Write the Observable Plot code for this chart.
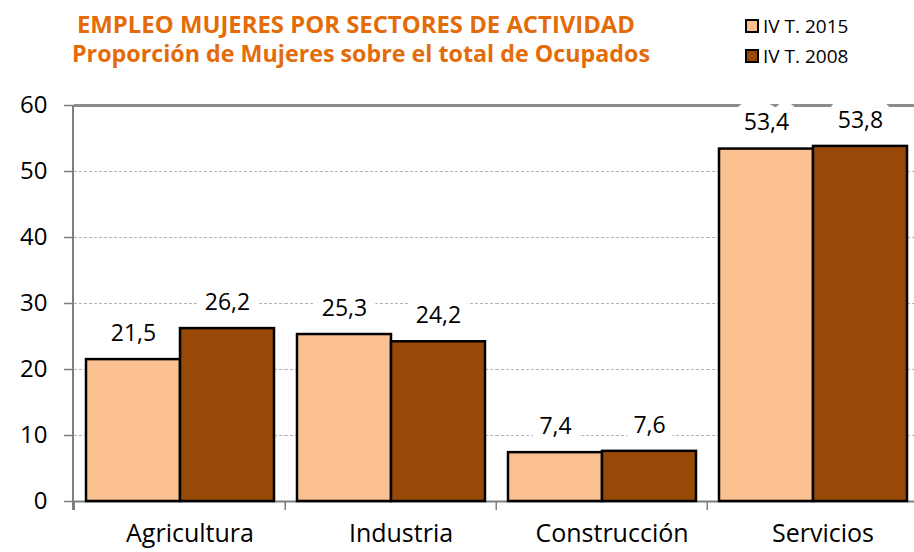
<!DOCTYPE html>
<html>
<head>
<meta charset="utf-8">
<script src="https://cdn.jsdelivr.net/npm/d3@7"></script>
<script src="https://cdn.jsdelivr.net/npm/@observablehq/plot@0.6"></script>
<style>
  html, body { margin: 0; padding: 0; background: #fff; overflow: hidden; }
  #wrap { position: relative; width: 914px; height: 552px; overflow: hidden; }
  #chart { position: absolute; left: 0; top: 0; width: 919px; height: 552px; }
  #chart svg { max-width: none !important; width: 919px; height: 552px; }
  #overlay { position: absolute; left: 0; top: 0; }
</style>
</head>
<body>
<div id="wrap">
  <div id="chart"></div>
  <svg id="overlay" width="914" height="100"></svg>
</div>
<script>
// ---- data ----
const sectors = ["Agricultura", "Industria", "Construcción", "Servicios"];
const periods = ["IV T. 2015", "IV T. 2008"];
const values2015 = [21.5, 25.3, 7.4, 53.4];
const values2008 = [26.2, 24.2, 7.6, 53.8];
const yTicks = [0, 10, 20, 30, 40, 50, 60];
const titleLines = ["EMPLEO MUJERES POR SECTORES DE ACTIVIDAD", "Proporción de Mujeres sobre el total de Ocupados"];

const colors = ["#FAC090", "#984807"];
const rows = sectors.flatMap((s, i) => [
  {sector: s, period: periods[0], value: values2015[i]},
  {sector: s, period: periods[1], value: values2008[i]}
]);
const fmt = v => v.toFixed(1).replace(".", ",");

const W = 919, ML = 73, MR = 0;
const step = (W - ML - MR) / sectors.length;

const chart = Plot.plot({
  width: W,
  height: 552,
  marginTop: 105,
  marginBottom: 51,
  marginLeft: ML,
  marginRight: MR,
  style: {fontFamily: "'Open Sans', sans-serif", background: "transparent", color: "black", maxWidth: "none"},
  fx: {domain: sectors, padding: 0, label: null, axis: null},
  x: {domain: periods, paddingInner: 0, paddingOuter: 0.117, axis: null},
  y: {domain: [0, 60], axis: null},
  color: {domain: periods, range: colors},
  marks: [
    Plot.gridY(yTicks.filter(t => t > 0 && t < 60), {stroke: "#b3b3b3", strokeOpacity: 1, strokeWidth: 1, strokeDasharray: "3,2"}),
    Plot.ruleY([60], {stroke: "#8c8c8c", strokeWidth: 3}),
    Plot.ruleY([0], {stroke: "#7f7f7f", strokeWidth: 2}),
    Plot.barY(rows, {fx: "sector", x: "period", y: "value", fill: "period", stroke: "black", strokeWidth: 2.5}),
    Plot.text(rows, {
      fx: "sector", x: "period", y: "value", text: d => fmt(d.value),
      dy: -26, fontSize: 23, fill: "black",
      stroke: "white", strokeWidth: 20, strokeLinejoin: "round", paintOrder: "stroke"
    }),
    Plot.axisY(yTicks, {tickSize: 10, tickPadding: 17, fontSize: 24, stroke: "#7f7f7f", fill: "black", strokeWidth: 1.5, label: null}),
    Plot.axisFx({anchor: "bottom", tickSize: 0, tickPadding: 23, fontSize: 25, dx: 10, fill: "black", label: null}),
    Plot.axisFx({anchor: "bottom", tickSize: 9, tickFormat: () => "", dx: -step / 2, stroke: "#7f7f7f", strokeWidth: 1.5, label: null})
  ]
});

// y-axis line using the plot's own y scale
const ys = chart.scale("y");
d3.select(chart).append("line")
  .attr("x1", ML).attr("x2", ML)
  .attr("y1", ys.apply(60)).attr("y2", ys.apply(0) + 9)
  .attr("stroke", "#7f7f7f").attr("stroke-width", 2);

document.getElementById("chart").appendChild(chart);

// ---- title & legend ----
const ov = d3.select("#overlay");
const orange = "#E36C09";
const titleSpec = [
  {x: 77, w: 558, y: 33},
  {x: 72, w: 578, y: 62}
];
titleLines.forEach((t, i) => {
  ov.append("text")
    .attr("x", titleSpec[i].x).attr("y", titleSpec[i].y)
    .attr("textLength", titleSpec[i].w).attr("lengthAdjust", "spacingAndGlyphs")
    .attr("font-family", "'Open Sans', sans-serif").attr("font-weight", 700)
    .attr("font-size", 22.5).attr("fill", orange)
    .text(t);
});
const legY = [20, 50];
periods.forEach((p, i) => {
  ov.append("rect")
    .attr("x", 746).attr("y", legY[i]).attr("width", 12).attr("height", 12)
    .attr("fill", colors[i]).attr("stroke", "black").attr("stroke-width", 2);
  ov.append("text")
    .attr("x", 763).attr("y", legY[i] + 13)
    .attr("font-family", "'Open Sans', sans-serif").attr("font-size", 19)
    .attr("fill", "black")
    .text(p);
});
</script>
</body>
</html>
